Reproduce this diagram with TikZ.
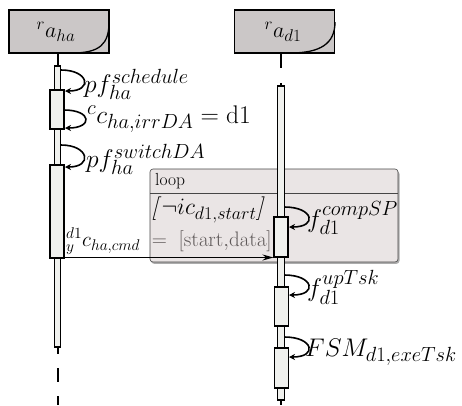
\documentclass[tikz,border=0pt]{standalone}
\usepackage{fix-cm}
\usetikzlibrary{arrows.meta}
\DeclareMathSizes{25.5}{25.5}{20.5}{15}
\DeclareMathSizes{21}{21}{15.5}{11}
\DeclareMathSizes{23.5}{23.5}{18}{13}
\DeclareMathSizes{22}{22}{17}{12}
\definecolor{actorgray}{RGB}{203,199,199}
\definecolor{barfill}{RGB}{240,241,238}
\definecolor{loopfill}{RGB}{210,198,198}
\definecolor{loopedge}{RGB}{70,70,70}
\tikzset{
  actor/.style={draw, line width=1.3pt, fill=actorgray, minimum width=100pt, minimum height=43pt, inner sep=0pt},
  nbar/.style={draw, line width=1.4pt, fill=barfill, minimum width=6.5pt, inner sep=0pt},
  wbar/.style={draw, line width=1.4pt, fill=barfill, minimum width=14pt, inner sep=0pt},
  life/.style={line width=2pt},
  selfloop/.style={line width=1.6pt, -{Stealth[length=6pt,width=6pt]}},
  msg/.style={line width=1.6pt, -{Stealth[length=11pt,width=6pt]}},
  lbl/.style={inner sep=0pt, anchor=west, font=\fontsize{25.5}{30}\selectfont},
  mlbl/.style={inner sep=0pt, anchor=south west, font=\fontsize{21}{25}\selectfont},
}
\begin{document}
\begin{tikzpicture}[x=1pt,y=-1pt]
\useasboundingbox (0,0) rectangle (462,405);
% actors
\node[actor] (A1) at (59,31.5) {};
\draw[line width=1.3pt] (109,22) .. controls (109,44) and (100,53) .. (72,53);
\node[inner sep=0pt, font=\fontsize{22}{26}\selectfont] (A1t) at (56,32) {$^{r}a_{ha}$};
\node[actor] (A2) at (284.5,31.5) {};
\draw[line width=1.3pt] (335,22) .. controls (335,44) and (320,53) .. (290,53);
\node[inner sep=0pt, font=\fontsize{22}{26}\selectfont] (A2t) at (283,32) {$^{r}a_{d1}$};
% left lifeline
\coordinate (L0) at (57.5,53);
\coordinate (L1) at (57.5,66);
\draw[life] (L0) -- (L1);
\node[nbar, minimum height=281pt] (Lnb) at (57.5,206.5) {};
\coordinate (L2) at (57.5,347);
\coordinate (L3) at (57.5,354);
\coordinate (L4) at (57.5,368);
\coordinate (L5) at (57.5,382);
\coordinate (L6) at (57.5,396);
\coordinate (L7) at (57.5,405);
\draw[life] (L2) -- (L3) (L4) -- (L5) (L6) -- (L7);
\node[wbar, minimum height=39pt] (Lw1) at (57,109.5) {};
\node[wbar, minimum height=93pt] (Lw2) at (57,211.5) {};
% left self loops
\coordinate (s1a) at (61,70); \coordinate (s1b) at (65,91);
\draw[selfloop] (s1a) .. controls +(28,0) and +(28,0) .. (s1b);
\node[lbl] (t1) at (84,84) {$pf_{ha}^{schedule}$};
\coordinate (s2a) at (64,110); \coordinate (s2b) at (65,128);
\draw[selfloop] (s2a) .. controls +(28,0) and +(28,0) .. (s2b);
\node[lbl] (t2) at (87,119) {$^{c}c_{ha,irrDA} = \mathrm{d1}$};
\coordinate (s3a) at (61,145); \coordinate (s3b) at (65,167);
\draw[selfloop] (s3a) .. controls +(28,0) and +(28,0) .. (s3b);
\node[lbl] (t3) at (86,159) {$pf_{ha}^{switchDA}$};
% loop box background (shadow + white ground)
\fill[gray!65, rounded corners=3pt] (151,171) rectangle (399.5,263.8);
\fill[white, rounded corners=3pt] (150,169) rectangle (398,262);
% message label (under the loop box tint)
\node[mlbl] (m1t) at (66,255) {$^{d1}_{y}c_{ha,cmd} \;=\; [\mathrm{start{,}data}]$};
% loop box
\node[draw=loopedge, line width=0.6pt, fill=loopfill, fill opacity=0.45, rounded corners=3pt, minimum width=248pt, minimum height=93pt, inner sep=0pt] (LB) at (274,215.5) {};
\coordinate (d1) at (150,193); \coordinate (d2) at (398,193);
\draw[loopedge, line width=0.8pt] (d1) -- (d2);
\node[inner sep=0pt, anchor=west, font=\fontsize{17.5}{20}\selectfont] (lp) at (155,181) {loop};
\node[inner sep=0pt, anchor=west, font=\fontsize{23.5}{28}\selectfont] (gd) at (151,210) {\textit{[}$\neg ic_{d1,start}$\textit{]}};
% right lifeline
\coordinate (R0) at (281,53);
\coordinate (R1) at (281,68);
\coordinate (R2) at (281,83);
\coordinate (R3) at (281,87);
\draw[life] (R0) -- (R1) (R2) -- (R3);
\node[nbar, minimum height=314pt] (Rnb) at (281,243) {};
\coordinate (R4) at (281,400);
\coordinate (R5) at (281,405);
\draw[life] (R4) -- (R5);
\node[wbar, minimum height=40pt] (Rw1) at (281,237) {};
\node[wbar, minimum height=39pt] (Rw2) at (281.5,306.5) {};
\node[wbar, minimum height=40pt] (Rw3) at (281.5,368) {};
% message arrow
\coordinate (m1a) at (64.5,257.5);
\coordinate (m1b) at (273.5,257.5);
\draw[msg] (m1a) -- (m1b);
% right self loops
\coordinate (r1a) at (284.5,207); \coordinate (r1b) at (289,227);
\draw[selfloop] (r1a) .. controls +(29,0) and +(29,0) .. (r1b);
\node[lbl] (u1) at (307,218) {$f_{d1}^{compSP}$};
\coordinate (r2a) at (284.5,275); \coordinate (r2b) at (289,295);
\draw[selfloop] (r2a) .. controls +(29,0) and +(29,0) .. (r2b);
\node[lbl] (u2) at (307,287) {$f_{d1}^{upTsk}$};
\coordinate (r3a) at (284.5,337); \coordinate (r3b) at (289,357);
\draw[selfloop] (r3a) .. controls +(29,0) and +(29,0) .. (r3b);
\node[lbl] (u3) at (305,352) {$FSM_{d1,exeTsk}$};
\end{tikzpicture}
\end{document}
